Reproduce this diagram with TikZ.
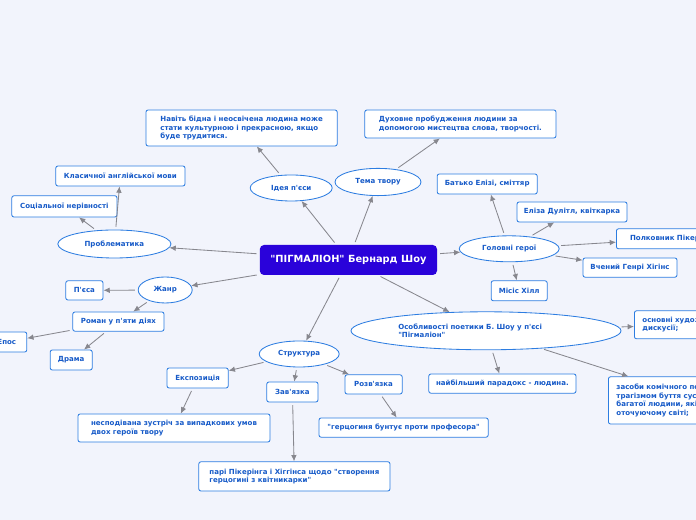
\documentclass[tikz,border=0pt]{standalone}
\usepackage{fontspec}
\setmainfont{DejaVu Sans}[Ligatures=TeXOff]
\usepackage{xcolor}
\usepackage{tikz}
\usetikzlibrary{shapes.geometric, arrows.meta}

\definecolor{mapbg}{RGB}{242,244,252}
\definecolor{mapblue}{RGB}{22,90,200}
\definecolor{mapedge}{RGB}{45,125,225}
\definecolor{mapcore}{RGB}{42,2,218}
\definecolor{maplink}{RGB}{135,135,142}

\tikzset{
  topic/.style={ellipse, draw=mapedge, fill=white, line width=0.6pt,
    text=mapblue, font=\fontsize{5}{6}\selectfont\bfseries, inner sep=0pt},
  leaf/.style={rectangle, rounded corners=1.5pt, draw=mapedge, fill=white,
    line width=0.6pt, text=mapblue, font=\fontsize{5}{6.1}\selectfont\bfseries,
    inner sep=0pt, align=left, minimum height=0.50cm},
  link/.style={draw=maplink, line width=0.6pt,
    -{Latex[length=4.5pt,width=4pt]}, shorten <=2pt},
}

\begin{document}
\begin{tikzpicture}
  %% page: 696 x 520 px, 40 px to the cm
  \fill[mapbg] (0,0) rectangle (17.40,13.00);
  \useasboundingbox (0,0) rectangle (17.40,13.00);

  %% centre of the map
  \node[rectangle, rounded corners=3pt, fill=mapcore, text=white,
    font=\fontsize{7}{8}\selectfont\bfseries,
    minimum width=4.43cm, minimum height=0.75cm] (core) at (8.71, 6.50)
    {"ПІГМАЛІОН" Бернард Шоу};

  %% first ring
  \node[topic, minimum width=2.05cm, minimum height=0.65cm] (idea) at (7.28, 8.30) {Ідея п'єси};
  \node[topic, minimum width=2.15cm, minimum height=0.68cm] (theme) at (9.45, 8.45) {Тема твору};
  \node[topic, minimum width=2.83cm, minimum height=0.70cm] (issues) at (2.86, 6.90) {Проблематика};
  \node[topic, minimum width=1.35cm, minimum height=0.65cm] (genre) at (4.13, 5.75) {Жанр};
  \node[topic, minimum width=2.50cm, minimum height=0.65cm] (heroes) at (12.73, 6.78) {Головні герої};
  \node[topic, minimum width=2.00cm, minimum height=0.65cm] (plan) at (7.48, 4.15) {Структура};
  \node[topic, minimum width=6.75cm, minimum height=0.95cm] (poet) at (12.15, 4.73) {};
  \node[anchor=west, text=mapblue, font=\fontsize{5}{6.1}\selectfont\bfseries,
    align=left, inner sep=0pt] (poettxt) at (9.95, 4.73)
    {Особливості поетики Б. Шоу у п'єсі\\"Пігмаліон"};

  %% idea and theme
  \node[leaf, minimum width=4.78cm, minimum height=0.90cm] (ideatext) at (6.04, 9.80)
    {Навіть бідна і неосвічена людина може\\стати культурною і прекрасною, якщо\\буде трудитися.};
  \node[leaf, minimum width=4.78cm, minimum height=0.70cm] (themetext) at (11.51, 9.90)
    {Духовне пробудження людини за\\допомогою мистецтва слова, творчості.};

  %% issues
  \node[leaf, minimum width=3.23cm] (speech) at (3.01, 8.60) {Класичної англійської мови};
  \node[leaf, minimum width=2.63cm, minimum height=0.53cm] (ranks) at (1.61, 7.84) {Соціальної нерівності};

  %% genre
  \node[leaf, minimum width=0.93cm, minimum height=0.48cm] (play) at (2.11, 5.74) {П'єса};
  \node[leaf, minimum width=2.28cm, minimum height=0.48cm] (novel) at (2.96, 4.96) {Роман у п'яти діях};
  \node[leaf, anchor=east, minimum width=1.00cm] (epic) at (0.68, 4.45) {Епос};
  \node[leaf, minimum width=1.05cm] (drama) at (1.78, 4.00) {Драма};

  %% heroes
  \node[leaf, minimum width=2.50cm] (father) at (12.18, 8.40) {Батько Елізі, сміттяр};
  \node[leaf, minimum width=2.75cm] (eliza) at (14.30, 7.70) {Еліза Дулітл, квіткарка};
  \node[leaf, anchor=west, minimum width=2.70cm] (colonel) at (15.40, 7.03) {Полковник Пікерінг};
  \node[leaf, minimum width=2.35cm, minimum height=0.48cm] (higgins) at (15.75, 6.31) {Вчений Генрі Хігінс};
  \node[leaf, minimum width=1.40cm] (hill) at (12.98, 5.73) {Місіс Хілл};

  %% structure
  \node[leaf, minimum width=1.53cm] (expo) at (4.94, 3.55) {Експозиція};
  \node[leaf, minimum width=1.28cm] (tie) at (7.31, 3.20) {Зав'язка};
  \node[leaf, minimum width=1.43cm, minimum height=0.48cm] (untie) at (9.34, 3.39) {Розв'язка};
  \node[leaf, minimum width=4.80cm, minimum height=0.70cm] (meet) at (4.35, 2.30)
    {несподівана зустріч за випадкових умов\\двох героїв твору};
  \node[leaf, minimum width=4.23cm, minimum height=0.48cm] (revolt) at (10.09, 2.31)
    {"герцогиня бунтує проти професора"};
  \node[leaf, minimum width=4.78cm, minimum height=0.73cm] (bet) at (7.36, 1.09)
    {парі Пікерінга і Хіггінса щодо "створення\\герцогині з квітникарки"};

  %% poetics
  \node[leaf, minimum width=3.68cm, minimum height=0.48cm] (paradox) at (12.56, 3.41)
    {найбільший парадокс - людина.};
  \node[leaf, anchor=west, text width=2.60cm, inner xsep=0.20cm, minimum height=0.70cm] (means) at (15.85, 4.88)
    {основні художні\\дискусії;};
  \node[leaf, anchor=west, text width=4.35cm, inner xsep=0.20cm, minimum height=1.18cm] (comic) at (15.20, 2.99)
    {засоби комічного поєднуються з\\трагізмом буття суспільства\\багатої людини, які\\оточуючому світі;};

  %% connectors
  \draw[link] (core) -- (idea);
  \draw[link] (core) -- (theme);
  \draw[link] (core) -- (issues);
  \draw[link] (core) -- (genre);
  \draw[link] (core) -- (heroes);
  \draw[link] (core) -- (plan);
  \draw[link] (core) -- (poet);
  \draw[link] (idea) -- (ideatext);
  \draw[link] (theme) -- (themetext);
  \draw[link] (issues) -- (ranks);
  \draw[link] (issues) -- (speech);
  \draw[link] (genre) -- (play);
  \draw[link] (genre) -- (novel);
  \draw[link] (novel) -- (epic);
  \draw[link] (novel) -- (drama);
  \draw[link] (heroes) -- (father);
  \draw[link] (heroes) -- (eliza);
  \draw[link] (heroes) -- (colonel);
  \draw[link] (heroes) -- (higgins);
  \draw[link] (heroes) -- (hill);
  \draw[link] (plan) -- (expo);
  \draw[link] (plan) -- (tie);
  \draw[link] (plan) -- (untie);
  \draw[link] (expo) -- (meet);
  \draw[link] (tie) -- (bet);
  \draw[link] (untie) -- (revolt);
  \draw[link] (poet) -- (means);
  \draw[link] (poet) -- (paradox);
  \draw[link] (poet) -- (comic);
\end{tikzpicture}
\end{document}
